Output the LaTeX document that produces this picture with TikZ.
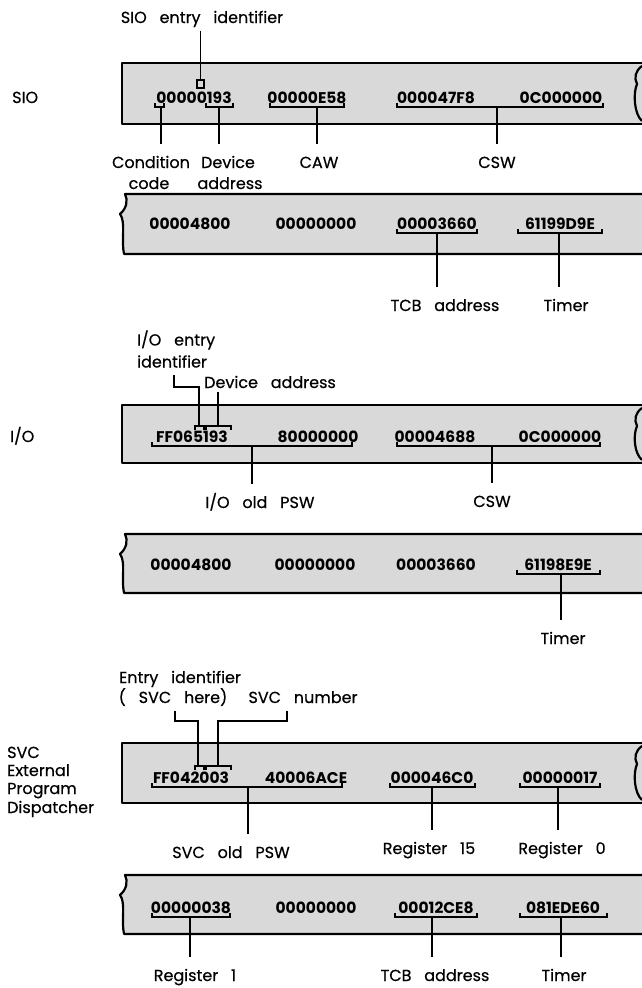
\documentclass[tikz,border=0pt]{standalone}
\usepackage{fontspec}
\setmainfont{Poppins}[WordSpace=3]
\newfontfamily\lblfont{Poppins}[WordSpace=3, FakeBold=0.5]
\newcommand{\ubrk}[3]{\draw[lead] (#1,#3-4) -- (#1,#3) -- (#2,#3) -- (#2,#3-4);}
\newcommand{\dbrk}[3]{\draw[lead] (#1,#3+4) -- (#1,#3) -- (#2,#3) -- (#2,#3+4);}
\newcommand{\stripA}[2]{%
  \fill[strip] (122,#1) rectangle (642,#2);
  \draw[edge] (642,#1) -- (122,#1) -- (122,#2) -- (642,#2);
  \draw[edge] (642,#1+3) .. controls (635,#1+8) and (634,#1+15) .. (637,#1+21)
     .. controls (633,#1+30) and (634,#2-10) .. (642,#2-3);}
\newcommand{\stripB}[2]{%
  \fill[strip] (125,#1) .. controls (128,#1+6) and (127,#1+14) .. (120,#1+20)
     .. controls (126,#1+28) and (121,#2-14) .. (124,#2) -- (642,#2) -- (642,#1) -- cycle;
  \draw[edge] (642,#1) -- (125,#1) .. controls (128,#1+6) and (127,#1+14) .. (120,#1+20)
     .. controls (126,#1+28) and (121,#2-14) .. (124,#2) -- (642,#2);}
\begin{document}
\begin{tikzpicture}[x=1pt,y=-1pt,
  strip/.style={fill=black!15},
  edge/.style={line width=2.2pt, line join=round},
  lead/.style={line width=1.3pt},
  val/.style={font=\fontsize{15.5}{16}\selectfont\bfseries, inner sep=0pt, anchor=base},
  lbl/.style={font=\lblfont\fontsize{16}{18}\selectfont, inner xsep=0pt, inner ysep=12pt,
              text height=11.5pt, text depth=3.5pt, anchor=base},
  lbla/.style={lbl, inner ysep=4pt},
  side/.style={font=\lblfont\fontsize{16}{18}\selectfont, inner sep=0pt, anchor=base west}]
\useasboundingbox (0,0) rectangle (642,988);

% ---------------- SIO ----------------
\stripA{63}{124}
\node[side] (lsio) at (12,103) {SIO};
\node[lbla] (sioe) at (202,23) {SIO entry identifier};
\node[val] (v11) at (194,103.5) {00000193};
\node[val] (v12) at (307,103.5) {00000E58};
\node[val] (v13) at (436,103.5) {000047F8};
\node[val] (v14) at (561,103.5) {0C000000};
\draw[lead] (197,80) rectangle (204,88);
\coordinate (sioeb) at (200.5,80);
\draw[lead] (sioe.south -| sioeb) -- (sioeb);
\ubrk{155}{164}{107} \coordinate (ccb) at (161,107);
\ubrk{206}{233}{107} \coordinate (dab) at (219,107);
\ubrk{270}{344}{107} \coordinate (cawb) at (317,107);
\ubrk{397}{603}{107} \coordinate (cswb1) at (497,107);
\node[lbl] (cond) at (151,168) {Condition};
\node[lbl] (code) at (149,189) {code};
\node[lbl] (dev) at (228,168) {Device};
\node[lbl] (addr) at (230,189) {address};
\node[lbl] (caw) at (319,168) {CAW};
\node[lbl] (csw1) at (497,168) {CSW};
\draw[lead] (ccb) -- (ccb |- cond.north);
\draw[lead] (dab) -- (dab |- dev.north);
\draw[lead] (cawb) -- (cawb |- caw.north);
\draw[lead] (cswb1) -- (cswb1 |- csw1.north);

\stripB{194}{254}
\node[val] (v21) at (190,229.5) {00004800};
\node[val] (v22) at (316,229.5) {00000000};
\node[val] (v23) at (437,229.5) {00003660};
\node[val] (v24) at (560,229.5) {61199D9E};
\ubrk{397}{477}{233} \coordinate (tcbb1) at (437,233);
\ubrk{518}{602}{233} \coordinate (tmb1) at (559,233);
\node[lbl] (tcb1) at (445,311) {TCB address};
\node[lbl] (tm1) at (566,311) {Timer};
\draw[lead] (tcbb1) -- (tcbb1 |- tcb1.north);
\draw[lead] (tmb1) -- (tmb1 |- tm1.north);

% ---------------- I/O ----------------
\stripA{405}{463}
\node[side] (lio) at (10,442) {I/O};
\node[lbla, anchor=base west] (ioe1) at (137,345.5) {I/O entry};
\node[lbla, anchor=base west] (ioe2) at (137,367.5) {identifier};
\node[lbla, anchor=base west, inner ysep=0pt] (iodev) at (204,388) {Device address};
\node[val] (v31) at (192,442.5) {FF065193};
\node[val] (v32) at (318,442.5) {80000000};
\node[val] (v33) at (435,442.5) {00004688};
\node[val] (v34) at (560,442.5) {0C000000};
\dbrk{195}{204}{426}
\dbrk{206}{231}{426}
\coordinate (ioec1) at (174,387);
\coordinate (ioec2) at (199,387);
\coordinate (ioeb) at (199,426);
\coordinate (iodb) at (218,426);
\draw[lead] (ioe2.south -| ioec1) -- (ioec1) -- (ioec2) -- (ioeb);
\draw[lead] (iodev.south -| iodb) -- (iodb);
\ubrk{152}{352}{446} \coordinate (pswb2) at (252,446);
\ubrk{397}{600}{446} \coordinate (cswb2) at (492,446);
\node[lbl] (psw2) at (260,508) {I/O old PSW};
\node[lbl] (csw2) at (492,507) {CSW};
\draw[lead] (pswb2) -- (pswb2 |- psw2.north);
\draw[lead] (cswb2) -- (cswb2 |- csw2.north);

\stripB{534}{593}
\node[val] (v41) at (191,570.5) {00004800};
\node[val] (v42) at (315,570.5) {00000000};
\node[val] (v43) at (436,570.5) {00003660};
\node[val] (v44) at (558,570.5) {61198E9E};
\ubrk{517}{600}{574} \coordinate (tmb2) at (561,574);
\node[lbl] (tm2) at (563,644) {Timer};
\draw[lead] (tmb2) -- (tmb2 |- tm2.north);

% ---------------- SVC ----------------
\stripA{743}{803}
\node[side] (ls1) at (7,758) {SVC};
\node[side] (ls2) at (7,776) {External};
\node[side] (ls3) at (7,794) {Program};
\node[side] (ls4) at (7,813) {Dispatcher};
\node[lbla] (ent1) at (180,683) {Entry identifier};
\node[lbla] (ent2) at (173,703) {( SVC here)};
\node[lbla] (svcn) at (303,703) {SVC number};
\node[val] (v51) at (191,783.5) {FF042003};
\node[val] (v52) at (306,783.5) {40006ACE};
\node[val] (v53) at (432,783.5) {000046C0};
\node[val] (v54) at (560,783.5) {00000017};
\dbrk{195}{204}{766}
\dbrk{206}{231}{766}
\coordinate (enc1) at (175,721);
\coordinate (enc2) at (198,721);
\coordinate (enb) at (198,766);
\coordinate (snc1) at (287,721);
\coordinate (snc2) at (218,721);
\coordinate (snb) at (218,766);
\draw[lead] (ent2.south -| enc1) -- (enc1) -- (enc2) -- (enb);
\draw[lead] (svcn.south -| snc1) -- (snc1) -- (snc2) -- (snb);
\ubrk{152}{342}{787} \coordinate (pswb3) at (248,787);
\ubrk{390}{475}{787} \coordinate (r15b) at (432,787);
\ubrk{520}{600}{787} \coordinate (r0b) at (558,787);
\node[lbl] (psw3) at (231,858) {SVC old PSW};
\node[lbl] (r15) at (429,854) {Register 15};
\node[lbl] (r0) at (562,854) {Register 0};
\draw[lead] (pswb3) -- (pswb3 |- psw3.north);
\draw[lead] (r15b) -- (r15b |- r15.north);
\draw[lead] (r0b) -- (r0b |- r0.north);

\stripB{875}{934}
\node[val] (v61) at (191,913.5) {00000038};
\node[val] (v62) at (316,913.5) {00000000};
\node[val] (v63) at (436,913.5) {00012CE8};
\node[val] (v64) at (563,913.5) {081EDE60};
\ubrk{152}{230}{917} \coordinate (r1b) at (190,917);
\ubrk{395}{477}{917} \coordinate (tcbb2) at (432,917);
\ubrk{520}{607}{917} \coordinate (tmb3) at (561,917);
\node[lbl] (r1) at (195,981) {Register 1};
\node[lbl] (tcb2) at (435,981) {TCB address};
\node[lbl] (tm3) at (564,981) {Timer};
\draw[lead] (r1b) -- (r1b |- r1.north);
\draw[lead] (tcbb2) -- (tcbb2 |- tcb2.north);
\draw[lead] (tmb3) -- (tmb3 |- tm3.north);
\end{tikzpicture}
\end{document}
